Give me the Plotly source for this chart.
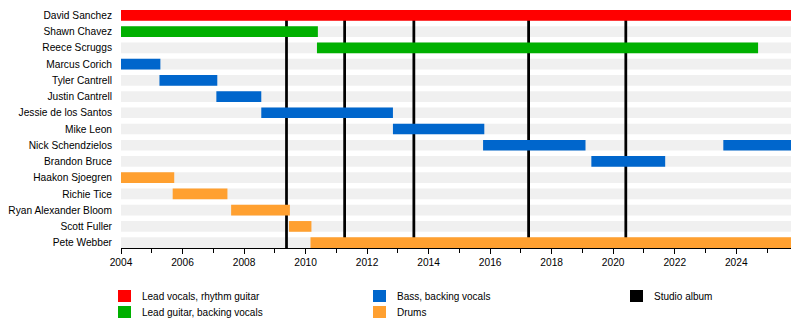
import plotly.graph_objects as go

START = 2004.0
END = 2025.78

members = ["David Sanchez", "Shawn Chavez", "Reece Scruggs", "Marcus Corich",
           "Tyler Cantrell", "Justin Cantrell", "Jessie de los Santos", "Mike Leon",
           "Nick Schendzielos", "Brandon Bruce", "Haakon Sjoegren", "Richie Tice",
           "Ryan Alexander Bloom", "Scott Fuller", "Pete Webber"]

spans_member = ["David Sanchez", "Shawn Chavez", "Reece Scruggs", "Marcus Corich",
                "Tyler Cantrell", "Justin Cantrell", "Jessie de los Santos", "Mike Leon",
                "Nick Schendzielos", "Nick Schendzielos", "Brandon Bruce",
                "Haakon Sjoegren", "Richie Tice", "Ryan Alexander Bloom",
                "Scott Fuller", "Pete Webber"]
spans_role = ["vocals", "guitar", "guitar", "bass", "bass", "bass", "bass", "bass",
              "bass", "bass", "bass", "drums", "drums", "drums", "drums", "drums"]
spans_start = [2004.0, 2004.0, 2010.37, 2004.0, 2005.25, 2007.10, 2008.56, 2012.84,
               2015.77, 2023.58, 2019.29, 2004.0, 2005.68, 2007.58, 2009.46, 2010.16]
spans_end = [END, 2010.40, 2024.71, 2005.28, 2007.13, 2008.56, 2012.84, 2015.81,
             2019.10, END, 2021.69, 2005.73, 2007.46, 2009.49, 2010.19, END]

albums = [2009.38, 2011.27, 2013.52, 2017.25, 2020.41]

roles = ["vocals", "guitar", "bass", "drums"]
role_names = {"vocals": "Lead vocals, rhythm guitar", "guitar": "Lead guitar, backing vocals",
              "bass": "Bass, backing vocals", "drums": "Drums"}
role_colors = {"vocals": "#ff0000", "guitar": "#00b000", "bass": "#0066cc", "drums": "#ffa030"}

# legend entries: label, colour, column, row
legend_labels = ["Lead vocals, rhythm guitar", "Lead guitar, backing vocals",
                 "Bass, backing vocals", "Drums", "Studio album"]
legend_colors = ["#ff0000", "#00b000", "#0066cc", "#ffa030", "#000000"]
legend_col = [0, 0, 1, 1, 2]
legend_row = [0, 0 + 1, 0, 1, 0]

n = len(members)
ypos = {m: n - 1 - i for i, m in enumerate(members)}
BW = 0.66
FONT = "Liberation Sans, Arial, sans-serif"

W, H = 800, 328
ML, MR, MT, MB = 121, 9, 10, 80
PW, PH = W - ML - MR, H - MT - MB


def px(x):
    return (x - ML) / PW


def py(y):
    return (H - MB - y) / PH


fig = go.Figure()

fig.add_trace(go.Bar(orientation="h", y=[ypos[m] for m in members],
                     x=[END - START] * n, base=[START] * n, width=BW,
                     marker=dict(color="#f0f0f0", line=dict(width=0)),
                     showlegend=False, hoverinfo="skip"))

fig.add_trace(go.Bar(orientation="v", x=albums, y=[n - 1 + BW] * len(albums),
                     base=[-BW / 2] * len(albums), width=0.09,
                     marker=dict(color="#000000", line=dict(width=0)),
                     name="Studio album", showlegend=False))

for r in roles:
    idx = [i for i, rr in enumerate(spans_role) if rr == r]
    fig.add_trace(go.Bar(orientation="h",
                         y=[ypos[spans_member[i]] for i in idx],
                         x=[spans_end[i] - spans_start[i] for i in idx],
                         base=[spans_start[i] for i in idx], width=BW,
                         marker=dict(color=role_colors[r], line=dict(width=0)),
                         name=role_names[r], showlegend=False))

# manual legend (three columns, column-major like the original)
col_x = [118, 373, 630]
row_y = [290, 306]
shapes, annos = [], []
for lab, col, c, r in zip(legend_labels, legend_colors, legend_col, legend_row):
    x0 = col_x[c]
    y0 = row_y[r]
    shapes.append(dict(type="rect", xref="paper", yref="paper",
                       x0=px(x0), x1=px(x0 + 13), y0=py(y0 + 12), y1=py(y0),
                       fillcolor=col, line=dict(width=0)))
    annos.append(dict(xref="paper", yref="paper", x=px(x0 + 22), y=py(y0 + 6.5),
                      xanchor="left", yanchor="middle", text=lab, showarrow=False,
                      font=dict(size=10, family=FONT, color="#000")))

fig.update_layout(
    width=W, height=H, barmode="overlay",
    margin=dict(l=ML, r=MR, t=MT, b=MB),
    paper_bgcolor="white", plot_bgcolor="white",
    font=dict(family=FONT, size=10.2, color="#000"),
    xaxis=dict(range=[START, END], dtick=2, tick0=2004, ticks="outside", ticklen=5,
               tickcolor="#000", showline=True, linecolor="#000", linewidth=1,
               showgrid=False, zeroline=False, tickfont=dict(size=10.2), automargin=False,
               minor=dict(dtick=1, ticks="outside", ticklen=4, tickcolor="#000", showgrid=False)),
    yaxis=dict(range=[-BW / 2, n - 1 + BW / 2], tickvals=[ypos[m] for m in members],
               ticktext=members, showgrid=False, zeroline=False, showline=False,
               ticks="", ticklabelstandoff=8, tickfont=dict(size=10.2), automargin=False),
    shapes=shapes, annotations=annos,
    showlegend=False,
)

fig.write_html("out.html")
